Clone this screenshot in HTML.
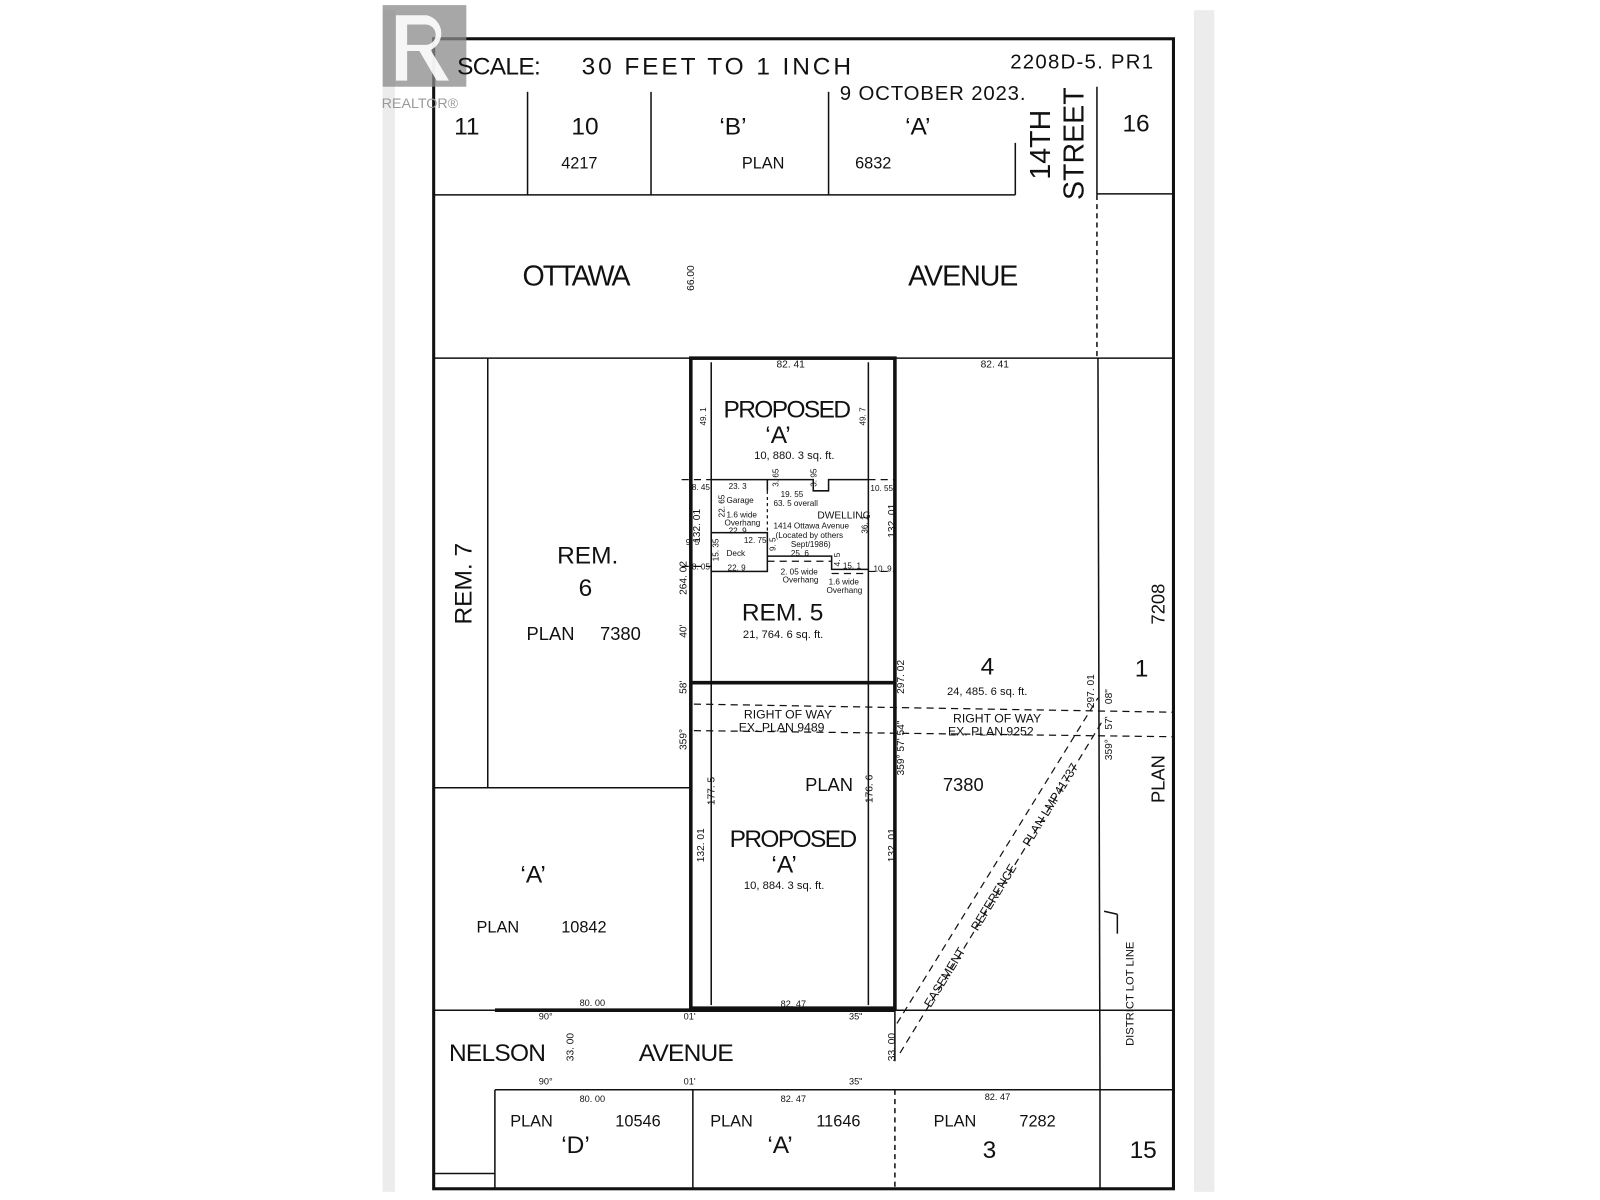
<!DOCTYPE html>
<html><head><meta charset="utf-8"><style>
html,body{margin:0;padding:0;background:#fff;}
svg{display:block;}
text{font-family:"Liberation Sans",sans-serif;fill:#111;}
</style></head><body>
<svg width="1600" height="1200" viewBox="0 0 1568 1176" xmlns="http://www.w3.org/2000/svg">
<rect width="1568" height="1176" fill="#fff"/>
<rect x="375" y="10" width="12" height="1158" fill="#ececec"/>
<rect x="1170" y="10" width="20" height="1158" fill="#ececec"/>
<g stroke="#111" fill="none">
<rect x="425" y="38" width="725" height="1127" stroke-width="3"/>
<g stroke-width="1.5">
<line x1="425" y1="191" x2="995" y2="191"/>
<line x1="517" y1="90" x2="517" y2="191"/>
<line x1="638" y1="90" x2="638" y2="191"/>
<line x1="812" y1="90" x2="812" y2="191"/>
<line x1="995" y1="140" x2="995" y2="191"/>
<line x1="1075" y1="85" x2="1075" y2="191"/>
<line x1="1075" y1="190" x2="1150" y2="190"/>
<line x1="1075" y1="191" x2="1075" y2="351" stroke-dasharray="5,4"/>
<line x1="425" y1="351" x2="1150" y2="351"/>
<line x1="478" y1="351" x2="478" y2="772"/>
<line x1="425" y1="772" x2="677" y2="772"/>
<line x1="697" y1="355" x2="697" y2="985"/>
<line x1="851" y1="355" x2="851" y2="985"/>
<line x1="877" y1="990" x2="1150" y2="990"/>
<line x1="425" y1="990" x2="485" y2="990"/>
<line x1="485" y1="1068" x2="1150" y2="1068"/>
<line x1="485" y1="1068" x2="485" y2="1165"/>
<line x1="679" y1="1068" x2="679" y2="1165"/>
<line x1="877" y1="1068" x2="877" y2="1165" stroke-dasharray="5,4"/>
<line x1="1078" y1="1068" x2="1078" y2="1165"/>
<line x1="425" y1="1150" x2="485" y2="1150"/>
<line x1="1076" y1="351" x2="1078" y2="1068"/>
<line x1="877" y1="990" x2="877" y2="1040"/>
</g>
<g stroke-width="3.5">
<rect x="677" y="351" width="200" height="637"/>
<line x1="677" y1="669" x2="877" y2="669"/>
<line x1="485" y1="990" x2="877" y2="990"/>
</g>
<g stroke-width="1.2" stroke-dasharray="7,5">
<line x1="680" y1="690" x2="1150" y2="698"/>
<line x1="680" y1="716" x2="1150" y2="722"/>
<line x1="879" y1="1003" x2="1076" y2="684"/>
<line x1="882" y1="1032" x2="1082" y2="704"/>
<line x1="668" y1="555" x2="697" y2="555"/>
<line x1="668" y1="470" x2="697" y2="470"/>
<line x1="851" y1="470" x2="877" y2="470"/>
<line x1="851" y1="560" x2="877" y2="560"/>
<line x1="697" y1="522" x2="752" y2="522"/>
<line x1="752" y1="550" x2="815" y2="550"/>
<line x1="815" y1="562" x2="851" y2="562"/>
<line x1="752" y1="481" x2="752" y2="522" stroke-dasharray="3,3"/>
</g>
<g stroke-width="1.5">
<polyline points="697,470 752,470 752,481 752,470 797,470 797,481 812,481 812,470 851,470"/>
<rect x="697" y="522" width="55" height="38"/>
<polyline points="752,545 815,545 815,558 851,558"/>
<line x1="1082" y1="893" x2="1095" y2="896"/>
<line x1="1095" y1="896" x2="1095" y2="915"/>
</g>
</g>
<!-- Realtor logo -->
<rect x="375" y="5" width="82" height="80" fill="#8a8a8a" opacity="0.75"/>
<path d="M388 15 h30 a18 18 0 0 1 4 34 l18 30 h-12 l-17 -29 h-12 v29 h-11z M399 24 v20 h18 a10 10 0 0 0 0 -20z" fill="#fff" opacity="0.9"/>
<text x="374" y="106" font-size="14" fill="#999" style="fill:#999">REALTOR®</text>
<!-- labels -->
<g font-size="24">
<text x="448" y="73" textLength="82">SCALE:</text>
<text x="570" y="73" textLength="264">30 FEET TO 1 INCH</text>
</g>
<text x="990" y="67" font-size="20" textLength="140">2208D-5. PR1</text>
<text x="823" y="98" font-size="20" textLength="182">9 OCTOBER 2023.</text>
<g font-size="24">
<text x="445" y="132">11</text>
<text x="560" y="132">10</text>
<text x="705" y="132">‘B’</text>
<text x="887" y="132">‘A’</text>
<text x="1100" y="129">16</text>
</g>
<g font-size="16">
<text x="550" y="165">4217</text>
<text x="727" y="165">PLAN</text>
<text x="838" y="165">6832</text>
</g>
<text font-size="28" transform="translate(1029,176) rotate(-90)">14TH</text>
<text font-size="28" transform="translate(1062,196) rotate(-90)">STREET</text>
<text x="512" y="280" font-size="28" textLength="106">OTTAWA</text>
<text x="890" y="280" font-size="28" textLength="108">AVENUE</text>
<text font-size="10" transform="translate(680,285) rotate(-90)">66.00</text>
<text x="761" y="360" font-size="10">82. 41</text>
<text x="961" y="360" font-size="10">82. 41</text>
<text x="709" y="409" font-size="24" textLength="125">PROPOSED</text>
<text x="750" y="434" font-size="24">‘A’</text>
<text x="739" y="450" font-size="11">10, 880. 3 sq. ft.</text>
<text font-size="8" transform="translate(692,417) rotate(-90)">49. 1</text>
<text font-size="8" transform="translate(848,417) rotate(-90)">49. 7</text>
<!-- dwelling detail -->
<g font-size="8">
<text x="678" y="480">8. 45</text>
<text x="714" y="479">23. 3</text>
<text x="712" y="493">Garage</text>
<text x="765" y="487">19. 55</text>
<text x="758" y="496">63. 5 overall</text>
<text x="712" y="507">1.6 wide</text>
<text x="710" y="515">Overhang</text>
<text x="714" y="523">22. 9</text>
<text x="729" y="532">12. 75</text>
<text x="712" y="545">Deck</text>
<text x="713" y="559">22. 9</text>
<text x="678" y="558">8. 05</text>
<text x="672" y="534">9. 5</text>
<text x="775" y="545">25. 6</text>
<text x="765" y="563">2. 05 wide</text>
<text x="767" y="571">Overhang</text>
<text x="826" y="557">15. 1</text>
<text x="856" y="560">10. 9</text>
<text x="853" y="481">10. 55</text>
<text x="810" y="581">Overhang</text>
<text x="812" y="573">1.6 wide</text>
<text x="801" y="508" font-size="10">DWELLING</text>
<text x="758" y="518">1414 Ottawa Avenue</text>
<text x="760" y="527">(Located by others</text>
<text x="775" y="536">Sept/1986)</text>
</g>
<g font-size="8">
<text transform="translate(763,477) rotate(-90)">3. 65</text>
<text transform="translate(800,477) rotate(-90)">3. 95</text>
<text transform="translate(710,507) rotate(-90)">22. 65</text>
<text transform="translate(704,550) rotate(-90)">15. 35</text>
<text transform="translate(760,540) rotate(-90)">9. 5</text>
<text transform="translate(850,523) rotate(-90)">36. 1</text>
<text transform="translate(823,555) rotate(-90)">4. 5</text>
</g>
<g font-size="10">
<text transform="translate(686,532) rotate(-90)">132. 01</text>
<text transform="translate(877,527) rotate(-90)">132. 01</text>
<text transform="translate(673,583) rotate(-90)">264. 02</text>
<text transform="translate(673,625) rotate(-90)">40'</text>
<text transform="translate(673,680) rotate(-90)">58'</text>
<text transform="translate(673,735) rotate(-90)">359°</text>
<text transform="translate(886,680) rotate(-90)">297. 02</text>
<text transform="translate(886,760) rotate(-90)">359° 57' 54"</text>
<text transform="translate(700,789) rotate(-90)">177. 5</text>
<text transform="translate(855,787) rotate(-90)">176. 6</text>
<text transform="translate(690,845) rotate(-90)">132. 01</text>
<text transform="translate(877,845) rotate(-90)">132. 01</text>
<text transform="translate(1072,694) rotate(-90)">297. 01</text>
<text transform="translate(1090,690) rotate(-90)">08"</text>
<text transform="translate(1090,715) rotate(-90)">57'</text>
<text transform="translate(1090,745) rotate(-90)">359°</text>
<text transform="translate(562,1040) rotate(-90)">33. 00</text>
<text transform="translate(877,1040) rotate(-90)">33. 00</text>
</g>
<text font-size="24" transform="translate(462,612) rotate(-90)">REM. 7</text>
<text x="546" y="552" font-size="24">REM.</text>
<text x="567" y="584" font-size="24">6</text>
<text x="516" y="627" font-size="18">PLAN</text>
<text x="588" y="627" font-size="18">7380</text>
<text x="727" y="608" font-size="24">REM.  5</text>
<text x="728" y="625" font-size="11">21, 764. 6 sq. ft.</text>
<text x="961" y="661" font-size="24">4</text>
<text x="928" y="681" font-size="11">24, 485. 6 sq. ft.</text>
<text x="1112" y="663" font-size="24">1</text>
<text font-size="18" transform="translate(1141,612) rotate(-90)">7208</text>
<text font-size="18" transform="translate(1141,787) rotate(-90)">PLAN</text>
<text x="729" y="704" font-size="12">RIGHT OF WAY</text>
<text x="724" y="717" font-size="12">EX. PLAN 9489</text>
<text x="934" y="708" font-size="12">RIGHT OF WAY</text>
<text x="929" y="721" font-size="12">EX. PLAN 9252</text>
<text x="789" y="775" font-size="18">PLAN</text>
<text x="924" y="775" font-size="18">7380</text>
<text x="715" y="830" font-size="24" textLength="125">PROPOSED</text>
<text x="756" y="855" font-size="24">‘A’</text>
<text x="729" y="871" font-size="11">10, 884. 3 sq. ft.</text>
<text x="510" y="865" font-size="24">‘A’</text>
<text x="467" y="914" font-size="16">PLAN</text>
<text x="550" y="914" font-size="16">10842</text>
<g font-size="12" transform="translate(912,988) rotate(-58.5)"><text x="0" y="0">EASEMENT</text><text x="88" y="0">REFERENCE</text><text x="185" y="0">PLAN LMP41737</text></g>
<text font-size="11" transform="translate(1111,1025) rotate(-90)">DISTRICT LOT LINE</text>
<g font-size="9">
<text x="528" y="999">90°</text>
<text x="568" y="986">80. 00</text>
<text x="670" y="999">01'</text>
<text x="765" y="987">82. 47</text>
<text x="832" y="999">35"</text>
<text x="528" y="1063">90°</text>
<text x="670" y="1063">01'</text>
<text x="832" y="1063">35"</text>
<text x="568" y="1080">80. 00</text>
<text x="765" y="1080">82. 47</text>
<text x="965" y="1078">82. 47</text>
</g>
<text x="440" y="1040" font-size="24" textLength="95">NELSON</text>
<text x="626" y="1040" font-size="24" textLength="93">AVENUE</text>
<g font-size="16">
<text x="500" y="1104">PLAN</text>
<text x="603" y="1104">10546</text>
<text x="696" y="1104">PLAN</text>
<text x="800" y="1104">11646</text>
<text x="915" y="1104">PLAN</text>
<text x="999" y="1104">7282</text>
</g>
<g font-size="24">
<text x="550" y="1130">‘D’</text>
<text x="752" y="1130">‘A’</text>
<text x="963" y="1135">3</text>
<text x="1107" y="1135">15</text>
</g>
</svg>
</body></html>
